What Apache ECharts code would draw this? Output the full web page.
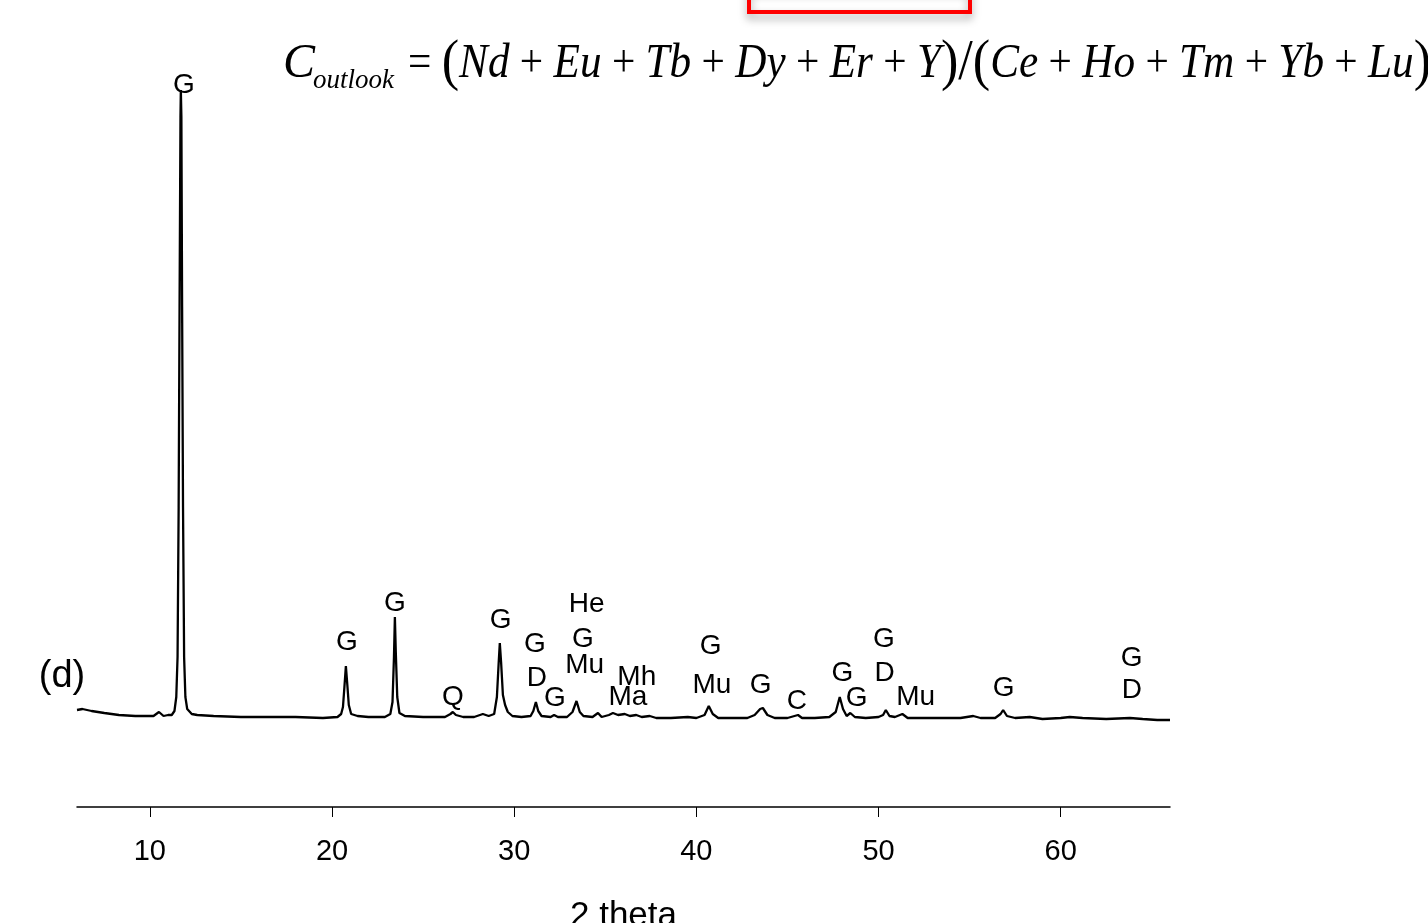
<!DOCTYPE html>
<html>
<head>
<meta charset="utf-8">
<script src="https://cdn.jsdelivr.net/npm/echarts@6/dist/echarts.min.js"></script>
<style>html,body{margin:0;padding:0;background:#fff;}#c{width:1428px;height:923px;}</style>
</head>
<body>
<div id="c"></div>
<script>
// ---- Data ----
const twoTheta = [
  6.0, 6.3, 6.8, 7.5, 8.3, 9.2, 10.2, 10.5, 10.75, 11.0,
  11.2, 11.35, 11.45, 11.52, 11.58, 11.63, 11.68, 11.70, 11.73, 11.77, 11.82, 11.88, 11.95, 12.05, 12.3,
  12.6, 13.5, 15.0, 16.5, 18.0, 19.5, 20.3,
  20.5, 20.6, 20.68, 20.76, 20.84, 20.92, 21.05, 21.4,
  22.0, 22.9, 23.2, 23.32, 23.4, 23.45, 23.5, 23.58, 23.7, 24.0,
  25.0, 26.2, 26.5, 26.63, 26.8, 27.2, 27.8, 28.28, 28.6,
  28.9, 29.05, 29.15, 29.21, 29.28, 29.38, 29.5, 29.65, 29.9,
  30.4, 30.9, 31.05, 31.19, 31.32, 31.5, 32.0, 32.19, 32.4, 32.9,
  33.2, 33.42, 33.6, 33.8, 34.3, 34.6, 34.8, 35.2, 35.42, 35.7,
  36.07, 36.35, 36.7, 37.0, 37.44, 37.8, 38.6, 39.53, 40.0,
  40.45, 40.68, 40.9, 41.2, 42.0, 42.8, 43.2, 43.5, 43.65, 43.9, 44.3,
  45.0, 45.58, 45.8, 46.5, 47.3, 47.65, 47.87, 48.05, 48.25, 48.45, 48.7,
  49.3, 50.0, 50.25, 50.4, 50.6, 50.9, 51.31, 51.6, 52.5, 53.5, 54.5,
  55.2, 55.6, 56.4, 56.7, 56.84, 57.05, 57.5, 58.3, 59.0, 60.0, 60.5,
  61.2, 62.5, 63.8, 64.5, 65.3, 66.0
];
const intensity = [
  97, 98, 96, 94, 92, 91, 91, 95, 91, 92,
  92, 96, 110, 150, 300, 500, 690, 717, 690, 500, 300, 150, 110, 98, 93,
  92, 91, 90, 90, 90, 89, 90,
  93, 100, 120, 141, 122, 102, 93, 91,
  90, 90, 93, 105, 150, 190, 155, 110, 94, 91,
  90, 90, 93, 95, 92, 90, 90, 93, 91,
  93, 110, 145, 164, 145, 112, 102, 95, 91,
  90, 91, 96, 105, 96, 91, 90, 92, 90, 90,
  95, 106, 95, 91, 90, 94, 90, 92, 94, 92,
  93, 91, 92, 90, 91, 89, 89, 90, 89,
  92, 101, 93, 89, 89, 89, 92, 98, 99, 92, 89,
  89, 92, 89, 89, 90, 95, 110, 98, 91, 94, 90,
  89, 90, 92, 97, 91, 90, 93, 89, 89, 89, 89,
  91, 89, 89, 93, 97, 91, 89, 90, 88, 89, 90,
  89, 88, 89, 88, 87, 87
];
// Phase labels: text, 2-theta position, height level
const labelText  = ['G','G','G','Q','G','He','G','G','D','Mu','Mh','G','Ma','G','Mu','G','C','G','G','G','D','Mu','G','G','D'];
const labelTheta = [11.87,20.81,23.45,26.63,29.26,33.98,31.13,33.77,31.24,33.87,36.73,32.23,36.24,40.79,40.85,43.53,45.51,48.01,48.80,50.29,50.34,52.04,56.87,63.90,63.90];
const labelLevel = [722,165,204,110,187,203,163,168,129,142,130,109,110,161,122,122,106,134,109,168,134,110,119,149,117];
const xTicks = [10, 20, 30, 40, 50, 60];

const chart = echarts.init(document.getElementById('c'));
const lineData = twoTheta.map((t, i) => [t, intensity[i]]);
const labelData = labelText.map((s, i) => ({ name: s, value: [labelTheta[i], labelLevel[i]] }));

chart.setOption({
  animation: false,
  backgroundColor: '#fff',
  grid: { left: 77, right: 258, top: 47, bottom: 116, outerBoundsMode: 'none', containLabel: false },
  xAxis: {
    type: 'value', min: 6, max: 66,
    name: '2 theta', nameLocation: 'middle', nameGap: 92,
    nameTextStyle: { fontFamily: 'Liberation Sans', fontSize: 35, color: '#000' },
    axisLine: { show: true, onZero: false, lineStyle: { color: '#000', width: 1.5 } },
    axisTick: { show: true, customValues: xTicks, length: 10, lineStyle: { color: '#000', width: 1 } },
    axisLabel: { customValues: xTicks, margin: 30, fontFamily: 'Liberation Sans', fontSize: 29, color: '#000' },
    splitLine: { show: false }
  },
  yAxis: { type: 'value', min: 0, max: 760, show: false, splitLine: { show: false } },
  series: [
    {
      type: 'line', data: lineData, showSymbol: false, symbol: 'none',
      lineStyle: { color: '#000', width: 2.3 }, z: 2
    },
    {
      type: 'scatter', data: labelData, symbolSize: 1, clip: false, silent: true,
      itemStyle: { color: 'rgba(0,0,0,0)', opacity: 1 },
      label: {
        show: true, position: 'inside', formatter: p => p.name, opacity: 1,
        textBorderWidth: 0,
        fontFamily: 'Liberation Sans', fontSize: 28, color: '#000'
      },
      z: 3
    }
  ],
  graphic: [
    { type: 'rect', shape: { x: 749, y: -12, width: 221, height: 24 },
      style: { fill: 'none', stroke: '#f00', lineWidth: 4, shadowBlur: 8, shadowColor: 'rgba(0,0,0,0.35)', shadowOffsetY: 5 } },
    { type: 'text', x: 62, y: 677,
      style: { text: '(d)', fontFamily: 'Liberation Sans', fontSize: 38, fill: '#000', align: 'center', verticalAlign: 'middle' } },
    { type: 'text', x: 283, y: 64,
      style: { text: 'C', fontFamily: 'Liberation Serif', fontStyle: 'italic', fontSize: 48, fill: '#000', align: 'left', verticalAlign: 'middle' } },
    { type: 'text', x: 313, y: 81,
      style: { text: 'outlook', fontFamily: 'Liberation Serif', fontStyle: 'italic', fontSize: 27, fill: '#000', align: 'left', verticalAlign: 'middle' } },
    { type: 'text', x: 408, y: 64, scaleX: 0.9,
      style: {
        text: '{o|= }{p|(}{v|Nd}{o| + }{v|Eu}{o| + }{v|Tb}{o| + }{v|Dy}{o| + }{v|Er}{o| + }{v|Y}{p|)/(}{v|Ce}{o| + }{v|Ho}{o| + }{v|Tm}{o| + }{v|Yb}{o| + }{v|Lu}{p|)}',
        verticalAlign: 'middle', align: 'left', fill: '#000',
        rich: {
          o: { fontFamily: 'Liberation Serif', fontSize: 46, fill: '#000' },
          v: { fontFamily: 'Liberation Serif', fontStyle: 'italic', fontSize: 48, fill: '#000' },
          p: { fontFamily: 'Liberation Serif', fontSize: 58, fill: '#000' }
        }
      } }
  ]
});
</script>
</body>
</html>
